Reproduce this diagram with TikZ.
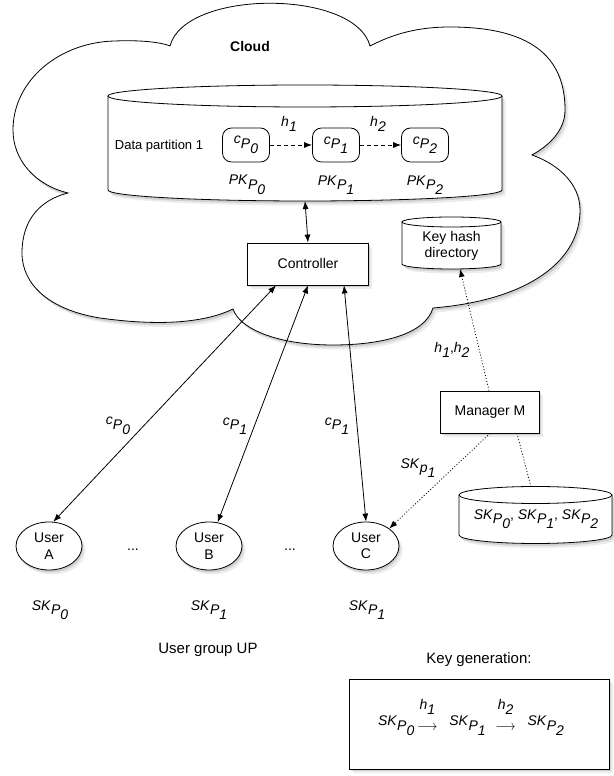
\documentclass[tikz,border=0pt]{standalone}
\usepackage{fontspec}
\setmainfont{Liberation Sans}
\usepackage{graphicx}
\usetikzlibrary{arrows.meta,shadows,calc,shapes.geometric}

\newcommand{\ksub}[3]{\textit{#1}\raisebox{-4.5pt}{\textit{#2}\raisebox{-5pt}{\textit{#3}}}}
\newcommand{\hsub}[1]{\textit{h}\raisebox{-4.5pt}{\textit{#1}}}
\newcommand{\harr}[1]{\makebox[20pt]{\raisebox{-4.5pt}{\scalebox{0.87}[1]{$\longrightarrow$}}}\llap{\makebox[20pt]{\raisebox{16pt}{\hsub{#1}}}}}

\begin{document}
\begin{tikzpicture}[x=1pt,y=1pt,line width=0.8pt,
  every node/.style={font=\fontsize{14}{16.5}\selectfont},
  shad/.style={drop shadow={opacity=0.15,shadow xshift=3.5pt,shadow yshift=-4.5pt},
               drop shadow={opacity=0.25,shadow xshift=1.5pt,shadow yshift=-2.5pt}},
  rbox/.style={draw, fill=white, shad, inner sep=0pt},
  cbox/.style={draw, fill=white, rounded corners=9pt, minimum width=47pt, minimum height=34pt, inner sep=0pt},
  userell/.style={ellipse, draw, fill=white, shad, minimum width=66pt, minimum height=48pt, inner sep=0pt, align=center},
  sarrow/.style={-{Latex[length=8pt,width=6pt]}},
  dblarrow/.style={{Latex[length=8pt,width=6pt]}-{Latex[length=8pt,width=6pt]}},
  dotline/.style={dash pattern=on 1pt off 2pt},
  dashline/.style={dash pattern=on 4pt off 3pt},
]
\useasboundingbox (0,0) rectangle (613,776);
\fill[white] (0,0) rectangle (613,776);

% cloud
\path[draw, fill=white, shad] (170,730)
  .. controls (185,787) and (355,787) .. (370,730)
  .. controls (395,743) and (420,749) .. (450,749)
  .. controls (540,749) and (565,712) .. (565,666)
  .. controls (565,646) and (550,631) .. (532,621)
  .. controls (560,611) and (580,591) .. (580,566)
  .. controls (580,516) and (530,476) .. (433,468)
  .. controls (425,441) and (380,431) .. (333,431)
  .. controls (280,431) and (240,446) .. (233,467)
  .. controls (200,451) and (150,451) .. (100,458)
  .. controls (50,466) and (22,491) .. (22,523)
  .. controls (22,556) and (40,576) .. (68,583)
  .. controls (35,591) and (13,616) .. (13,646)
  .. controls (13,696) and (60,734) .. (115,735)
  .. controls (140,736) and (160,734) .. (170,730) -- cycle;
\node[font=\fontsize{14}{16}\selectfont\bfseries] (cloud) at (250,729) {Cloud};

% data partition cylinder
\path[draw, fill=white, shad] (108,680) -- (108,586)
  arc[start angle=180,end angle=360,x radius=197,y radius=11] -- (502,680)
  arc[start angle=0,end angle=180,x radius=197,y radius=11] -- cycle;
\draw (108,680) arc[start angle=180,end angle=360,x radius=197,y radius=11];
\coordinate (partb) at (305,575);

\node[font=\fontsize{13}{15}\selectfont] (dp) at (159,630) {Data partition 1};
\node[cbox] (c0) at (246,631) {\ksub{c}{P}{0}};
\node[cbox] (c1) at (336,631) {\ksub{c}{P}{1}};
\node[cbox] (c2) at (425,631) {\ksub{c}{P}{2}};
\draw[dashline, sarrow] (c0) -- (c1);
\draw[dashline, sarrow] (c1) -- (c2);
\node (h1) at (289,652) {\hsub{1}};
\node (h2) at (378,652) {\hsub{2}};
\node (pk0) at (247,591) {\ksub{PK}{P}{0}};
\node (pk1) at (336,591) {\ksub{PK}{P}{1}};
\node (pk2) at (425,591) {\ksub{PK}{P}{2}};

% controller
\node[rbox, minimum width=121pt, minimum height=42pt] (ctrl) at (308,512) {Controller};
\draw[dblarrow] (partb) -- (ctrl.north);

% key hash directory
\path[draw, fill=white, shad] (402,554) -- (402,512)
  arc[start angle=180,end angle=360,x radius=49.5,y radius=5] -- (501,554)
  arc[start angle=0,end angle=180,x radius=49.5,y radius=5] -- cycle;
\draw (402,554) arc[start angle=180,end angle=360,x radius=49.5,y radius=5];
\node[align=center] (khd) at (451.5,530) {Key hash\\directory};
\coordinate (khb) at (460,507);

% manager
\node[rbox, minimum width=99pt, minimum height=42pt] (mgr) at (490,364) {Manager M};

% SK store
\path[draw, fill=white, shad] (459,281) -- (459,241)
  arc[start angle=180,end angle=360,x radius=76.5,y radius=8.5] -- (612,281)
  arc[start angle=0,end angle=180,x radius=76.5,y radius=8.5] -- cycle;
\draw (459,281) arc[start angle=180,end angle=360,x radius=76.5,y radius=8.5];
\node (sks) at (536,257) {\ksub{SK}{P}{0}, \ksub{SK}{P}{1}, \ksub{SK}{P}{2}};
\coordinate (skt) at (531,289);

% users
\node[userell] (ua) at (49,230) {User\\A};
\node[userell] (ub) at (209,230) {User\\B};
\node[userell] (uc) at (366,230) {User\\C};
\node (d1) at (133,226) {...};
\node (d2) at (290,226) {...};
\node (ska) at (50,166) {\ksub{SK}{P}{0}};
\node (skb) at (209,166) {\ksub{SK}{P}{1}};
\node (skc) at (367,166) {\ksub{SK}{P}{1}};
\node[font=\fontsize{15}{17}\selectfont] (ug) at (208,126) {User group UP};

% controller <-> users
\draw[dblarrow] ($(ctrl.south)+(-32,0)$) -- (ua.80);
\draw[dblarrow] (ctrl.south) -- (ub.70);
\draw[dblarrow] ($(ctrl.south)+(36,0)$) -- (uc.north);
\node (la) at (118,350) {\ksub{c}{P}{0}};
\node (lb) at (235,350) {\ksub{c}{P}{1}};
\node (lc) at (337,350) {\ksub{c}{P}{1}};

% manager connectors
\draw[dotline, sarrow] ($(mgr.north)+(-1,0)$) -- (khb);
\node (hh) at (452,426) {\hsub{1},\hsub{2}};
\draw[dotline] ($(mgr.south)+(27,0)$) -- (skt);
\draw[dotline, sarrow] (mgr.south) -- (uc.37);
\node (skp) at (418,308) {\ksub{SK}{p}{1}};

% key generation
\node[font=\fontsize{15}{17}\selectfont] (kgl) at (479,116) {Key generation:};
\node[rbox, minimum width=260pt, minimum height=90pt] (kg) at (479,52) {};
\node[anchor=base, inner sep=0pt] (kgt) at (471,50)
  {\ksub{SK}{P}{0}\hspace{3pt}\harr{1}\hspace{12pt}\ksub{SK}{P}{1}\hspace{10pt}\harr{2}\hspace{12pt}\ksub{SK}{P}{2}};
\end{tikzpicture}
\end{document}
